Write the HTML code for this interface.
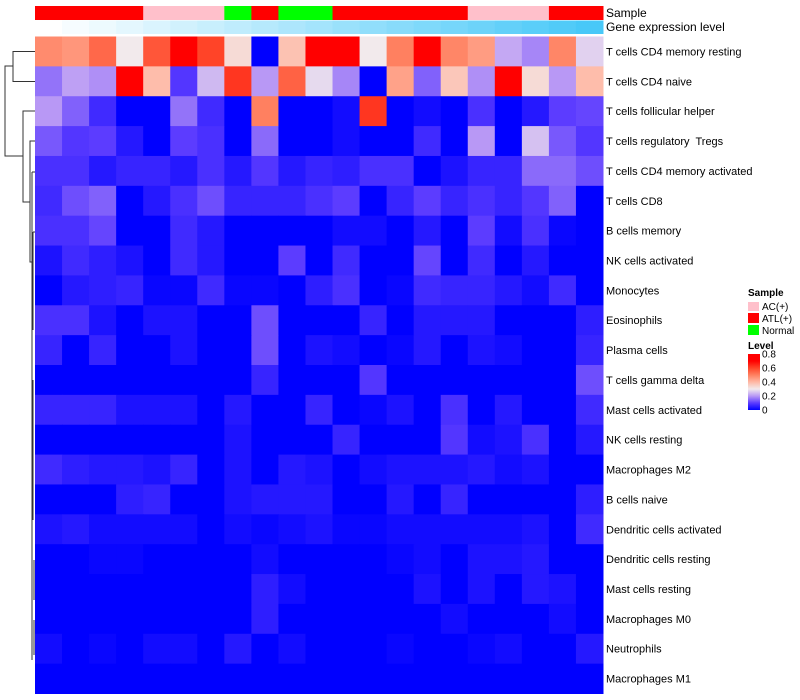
<!DOCTYPE html>
<html><head><meta charset="utf-8">
<style>
html,body{margin:0;padding:0;background:#fff;}
svg{display:block;font-family:"Liberation Sans",sans-serif;}
</style></head>
<body>
<svg id="chart" width="800" height="700">
  <g id="dendro" stroke="#333" stroke-width="1" fill="none">
    <path d="M35,51.5H13V81.5H35"/>
    <path d="M13,66H5V156H23"/>
    <path d="M35,111H23V202H30"/>
    <path d="M35,141H30V262H32"/>
    <path d="M32,172V660"/>
    <path d="M32,172H35M33,232H35M33,232V330M33,380V520M34,560V600M34,620V655"/>
  </g>
  <g id="cells"></g>
  <g id="anno"></g>
  <g id="rowlabels" font-size="11" fill="#000"></g>
  <text x="606" y="17" font-size="12">Sample</text>
  <text x="606" y="31" font-size="12">Gene expression level</text>
  <g font-size="10">
    <text x="748" y="296" font-weight="bold">Sample</text>
    <rect x="748" y="302" width="11" height="9" fill="#ffc0cb"/>
    <text x="762" y="310">AC(+)</text>
    <rect x="748" y="313" width="11" height="10" fill="#ff0000"/>
    <text x="762" y="322">ATL(+)</text>
    <rect x="748" y="325" width="11" height="10" fill="#00ff00"/>
    <text x="762" y="334">Normal</text>
    <text x="748" y="349" font-weight="bold">Level</text>
    <defs><linearGradient id="lg" x1="0" y1="1" x2="0" y2="0">
      <stop offset="0" stop-color="#0000ff"/><stop offset="0.125" stop-color="#5c3cff"/>
      <stop offset="0.25" stop-color="#b898f5"/><stop offset="0.375" stop-color="#f2eaec"/>
      <stop offset="0.5" stop-color="#ffb8a4"/><stop offset="0.625" stop-color="#ff8060"/>
      <stop offset="0.75" stop-color="#ff4428"/><stop offset="0.875" stop-color="#ff0000"/>
      <stop offset="1" stop-color="#ff0000"/></linearGradient></defs>
    <rect x="748" y="354" width="12" height="56" fill="url(#lg)"/>
    <g id="ticks"></g>
  </g>
</svg>
<script>
const rowNames=["T cells CD4 memory resting","T cells CD4 naive","T cells follicular helper","T cells regulatory\u00a0 Tregs","T cells CD4 memory activated","T cells CD8","B cells memory","NK cells activated","Monocytes","Eosinophils","Plasma cells","T cells gamma delta","Mast cells activated","NK cells resting","Macrophages M2","B cells naive","Dendritic cells activated","Dendritic cells resting","Mast cells resting","Macrophages M0","Neutrophils","Macrophages M1"];
const sampleGroups=["ATL(+)","ATL(+)","ATL(+)","ATL(+)","AC(+)","AC(+)","AC(+)","Normal","ATL(+)","Normal","Normal","ATL(+)","ATL(+)","ATL(+)","ATL(+)","ATL(+)","AC(+)","AC(+)","AC(+)","ATL(+)","ATL(+)"];
const levelTicks=[0,0.2,0.4,0.6,0.8];
const v0=[0.48,0.46,0.54,0.3,0.57,0.7,0.6,0.33,0,0.38,0.7,0.7,0.3,0.5,0.7,0.49,0.45,0.22,0.18,0.49,0.27];
const v1=[0.16,0.21,0.19,0.7,0.39,0.09,0.24,0.62,0.2,0.55,0.28,0.18,0,0.44,0.14,0.37,0.19,0.7,0.33,0.2,0.39];
const v2=[0.2,0.14,0.07,0,0,0.16,0.07,0,0.5,0,0,0.02,0.62,0,0.02,0,0.08,0,0.04,0.1,0.11];
const v3=[0.13,0.09,0.1,0.04,0,0.1,0.08,0,0.15,0,0,0.02,0,0,0.07,0,0.2,0,0.25,0.13,0.09];
const v4=[0.08,0.08,0.04,0.06,0.06,0.04,0.08,0.04,0.09,0.04,0.06,0.05,0.08,0.08,0,0.03,0.06,0.06,0.15,0.15,0.12];
const v5=[0.07,0.12,0.14,0,0.04,0.08,0.12,0.06,0.06,0.06,0.08,0.1,0,0.06,0.1,0.06,0.08,0.06,0.09,0.14,0];
const v6=[0.08,0.08,0.11,0,0,0.07,0.04,0,0,0,0,0.02,0.02,0,0.04,0,0.1,0.02,0.08,0.01,0];
const v7=[0.03,0.07,0.05,0.03,0,0.07,0.04,0,0,0.1,0,0.07,0,0,0.11,0,0.07,0,0.04,0,0];
const v8=[0,0.04,0.05,0.06,0.01,0.01,0.07,0.01,0.01,0,0.05,0.08,0,0.01,0.07,0.06,0.06,0.04,0.02,0.07,0];
const v9=[0.08,0.08,0.03,0,0.03,0.03,0,0,0.12,0,0,0,0.06,0,0.04,0.04,0.04,0,0,0,0.05];
const v10=[0.06,0,0.06,0,0,0.03,0,0,0.12,0,0.03,0.02,0,0.01,0.04,0,0.03,0.02,0,0,0.06];
const v11=[0,0,0,0,0,0,0,0,0.06,0,0,0,0.09,0,0,0,0,0,0,0,0.12];
const v12=[0.06,0.06,0.06,0.03,0.03,0.03,0,0.04,0,0,0.06,0,0.01,0.03,0,0.08,0,0.04,0,0,0.07];
const v13=[0,0,0,0,0,0,0,0.03,0,0,0,0.06,0,0,0,0.09,0.02,0.03,0.08,0,0.04];
const v14=[0.07,0.05,0.04,0.04,0.03,0.06,0,0.03,0,0.04,0.03,0,0.02,0.03,0.03,0.03,0.04,0.02,0.03,0,0];
const v15=[0,0,0,0.05,0.06,0,0,0.03,0.04,0.04,0.04,0,0,0.04,0,0.06,0,0,0,0,0.05];
const v16=[0.03,0.04,0.02,0.02,0.02,0.02,0,0.02,0.01,0.02,0.03,0.01,0.01,0.02,0.02,0.02,0.02,0.02,0.03,0,0.07];
const v17=[0,0,0.01,0.01,0,0,0,0,0.02,0,0,0,0,0.01,0.02,0,0.03,0.03,0.04,0,0];
const v18=[0,0,0,0,0,0,0,0,0.05,0.02,0,0,0,0,0.03,0,0.03,0,0.04,0.03,0];
const v19=[0,0,0,0,0,0,0,0,0.05,0,0,0,0,0,0,0.02,0,0,0,0.02,0];
const v20=[0.02,0,0.01,0,0.02,0.02,0,0.04,0,0.02,0,0,0,0.01,0,0,0.01,0.02,0,0,0.04];
const v21=[0,0,0,0,0,0,0,0,0,0,0,0,0,0,0,0,0,0,0,0,0];
const values=[v0,v1,v2,v3,v4,v5,v6,v7,v8,v9,v10,v11,v12,v13,v14,v15,v16,v17,v18,v19,v20,v21];

const NS="http://www.w3.org/2000/svg";
const X0=35,X1=603,Y0=36.5,Y1=693.5;
const nCol=sampleGroups.length,nRow=rowNames.length;
const cw=(X1-X0)/nCol,rh=(Y1-Y0)/nRow;
const xPos=i=>X0+i*cw, yPos=j=>Y0+j*rh;
const stops=[[0,[0,0,255]],[0.1,[92,60,255]],[0.2,[184,152,245]],[0.3,[242,234,236]],[0.4,[255,184,164]],[0.5,[255,128,96]],[0.6,[255,68,40]],[0.7,[255,0,0]],[1,[255,0,0]]];
function color(v){
  v=Math.max(0,Math.min(1,v));
  for(let k=1;k<stops.length;k++){
    if(v<=stops[k][0]){const a=stops[k-1],b=stops[k];const t=(v-a[0])/(b[0]-a[0]);
      const c=a[1].map((x,i)=>Math.round(x+(b[1][i]-x)*t));return `rgb(${c})`;}
  }
  return "rgb(255,0,0)";
}
const gCells=document.getElementById('cells');
values.forEach((row,j)=>row.forEach((v,i)=>{
  const r=document.createElementNS(NS,'rect');
  r.setAttribute('x',xPos(i));r.setAttribute('y',yPos(j));
  r.setAttribute('width',cw+0.5);r.setAttribute('height',rh+0.5);
  r.setAttribute('fill',color(v));
  
  
  gCells.appendChild(r);
}));
const gL=document.getElementById('rowlabels');
rowNames.forEach((n,j)=>{
  const t=document.createElementNS(NS,'text');
  t.setAttribute('x',606);t.setAttribute('y',yPos(j)+rh/2+4);
  t.textContent=n;
  
  
  gL.appendChild(t);
});
const gA=document.getElementById('anno');
const gcol={"ATL(+)":"#ff0000","AC(+)":"#ffc0cb","Normal":"#00ff00"};
sampleGroups.forEach((g,i)=>{
  const r=document.createElementNS(NS,'rect');
  r.setAttribute('x',xPos(i));r.setAttribute('y',6);r.setAttribute('width',cw+0.5);r.setAttribute('height',14);
  r.setAttribute('fill',gcol[g]);
  
  
  gA.appendChild(r);
  const r2=document.createElementNS(NS,'rect');
  const t=i/(nCol-1);
  const c=[255+(72-255)*t,255+(200-255)*t,255+(248-255)*t].map(Math.round);
  r2.setAttribute('x',xPos(i));r2.setAttribute('y',20.5);r2.setAttribute('width',cw+0.5);r2.setAttribute('height',13.5);
  r2.setAttribute('fill',`rgb(${c})`);
  
  
  gA.appendChild(r2);
});
const gT=document.getElementById('ticks');
levelTicks.forEach(v=>{
  const y=410-(v/0.8)*56;
  const t=document.createElementNS(NS,'text');
  t.setAttribute('x',762);t.setAttribute('y',y+3.5);t.textContent=String(v);
  
  
  gT.appendChild(t);
});
</script>
</body></html>
